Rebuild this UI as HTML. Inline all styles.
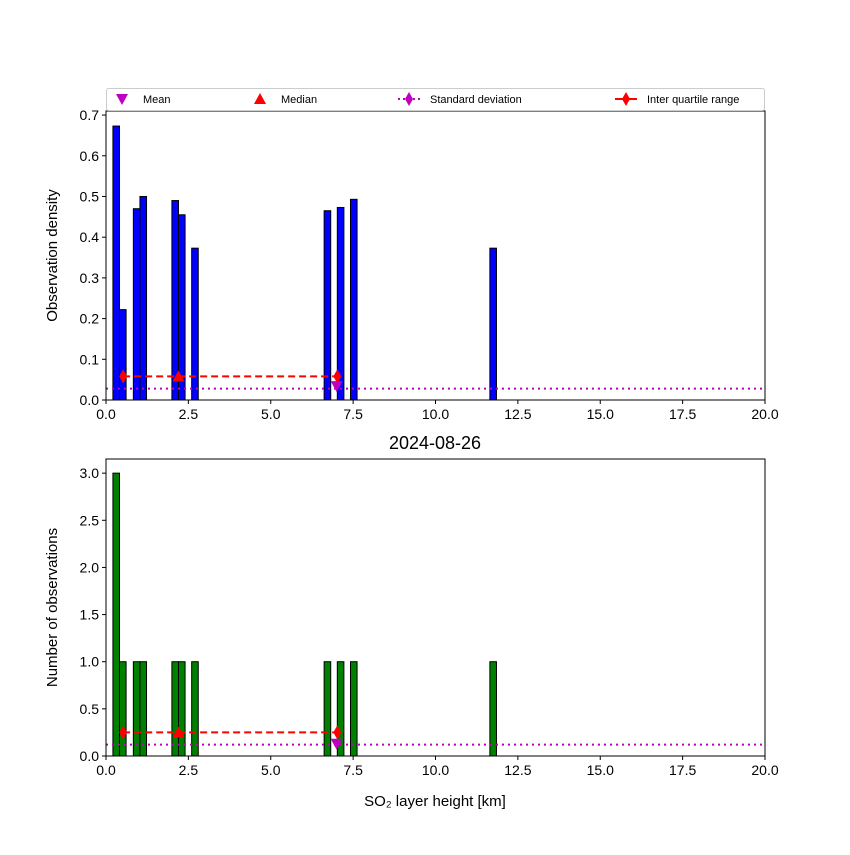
<!DOCTYPE html>
<html><head><meta charset="utf-8"><style>
body{margin:0;background:#fff;}
svg text{font-family:"Liberation Sans","DejaVu Sans",sans-serif;}
</style></head><body>
<svg id="chart" width="850" height="850" viewBox="0 0 850 850" xmlns="http://www.w3.org/2000/svg"></svg>
<script>
const binCenters=[0.31,0.51,0.93,1.13,2.1,2.3,2.7,6.72,7.12,7.52,11.75];
const densities=[0.673,0.222,0.470,0.500,0.490,0.455,0.373,0.465,0.473,0.493,0.373];
const counts=[3,1,1,1,1,1,1,1,1,1,1];
const binWidth=0.2;
const xTicks=[0,2.5,5,7.5,10,12.5,15,17.5,20];
const yTicksTop=[0,0.1,0.2,0.3,0.4,0.5,0.6,0.7];
const yTicksBot=[0,0.5,1,1.5,2,2.5,3];
const iqrRange=[0.52,7.02];
const medianVal=2.2;
const meanVal=7.0;
const topStats=[0.058,0.034,0.028];
const botStats=[0.25,0.13,0.12];

const svg=document.getElementById('chart');
const NS='http://www.w3.org/2000/svg';
function mk(tag,attrs,parent){const e=document.createElementNS(NS,tag);for(const k in attrs)e.setAttribute(k,attrs[k]);(parent||svg).appendChild(e);return e;}
const X0=106,X1=765;
const xs=v=>X0+(v/20)*(X1-X0);

function panel(name,top,bottom,ymax,ticks,vals,color,stats,ylabel){
  const ys=v=>bottom-(v/ymax)*(bottom-top);
  const g=mk('g',{});
  
  
  vals.forEach((v,i)=>{
    const r=mk('rect',{x:xs(binCenters[i]-binWidth/2),y:ys(v),width:xs(binWidth)-X0,height:bottom-ys(v),fill:color,stroke:'#000','stroke-width':1},g);
    
    
  });
  const sd=mk('line',{x1:X0,x2:X1,y1:ys(stats[2]),y2:ys(stats[2]),stroke:'#bf00bf','stroke-width':2,'stroke-dasharray':'2,4'},g);
  
  
  const iy=ys(stats[0]);
  const iq=mk('line',{x1:xs(iqrRange[0]),x2:xs(iqrRange[1]),y1:iy,y2:iy,stroke:'#ff0000','stroke-width':2,'stroke-dasharray':'7,4'},g);
  
  
  iqrRange.forEach(v=>{const x=xs(v);const d=mk('polygon',{points:`${x},${iy-7} ${x+4},${iy} ${x},${iy+7} ${x-4},${iy}`,fill:'#ff0000'},g);
    });
  const mx=xs(medianVal);
  const md=mk('polygon',{points:`${mx},${iy-6} ${mx+6},${iy+5} ${mx-6},${iy+5}`,fill:'#ff0000'},g);
  
  const ex=xs(meanVal),ey=ys(stats[1]);
  const mn=mk('polygon',{points:`${ex-6},${ey-5} ${ex+6},${ey-5} ${ex},${ey+6}`,fill:'#bf00bf'},g);
  
  const fr=mk('rect',{x:X0,y:top,width:X1-X0,height:bottom-top,fill:'none',stroke:'#000','stroke-width':1},g);
  
  xTicks.forEach(t=>{const x=xs(t);mk('line',{x1:x,x2:x,y1:bottom,y2:bottom+4,stroke:'#000'},g);
    const tx=mk('text',{x:x,y:bottom+19,'text-anchor':'middle','font-size':14},g);tx.textContent=t.toFixed(1);
    });
  ticks.forEach(t=>{const y=ys(t);mk('line',{x1:X0-4,x2:X0,y1:y,y2:y,stroke:'#000'},g);
    const tx=mk('text',{x:X0-7,y:y+5,'text-anchor':'end','font-size':14},g);tx.textContent=t.toFixed(1);
    });
  const yl=mk('text',{x:0,y:0,'text-anchor':'middle','font-size':15,transform:`translate(57,${(top+bottom)/2}) rotate(-90)`},g);
  yl.textContent=ylabel;
}
panel('density',111,400,0.71,yTicksTop,densities,'#0000ff',topStats,'Observation density');
panel('count',459,756,3.15,yTicksBot,counts,'#008000',botStats,'Number of observations');

const title=mk('text',{x:435,y:449,'text-anchor':'middle','font-size':18});
title.textContent='2024-08-26';
const xl=mk('text',{x:435,y:806,'text-anchor':'middle','font-size':15});
xl.textContent='SO₂ layer height [km]';

const lg=mk('g',{});

mk('rect',{x:106.5,y:88.5,width:658,height:22,rx:2,fill:'#fff',stroke:'#ccc'},lg);
const ly=99;
mk('polygon',{points:`116,${ly-5} 128,${ly-5} 122,${ly+6}`,fill:'#bf00bf'},lg);
mk('polygon',{points:`260,${ly-6} 266,${ly+5} 254,${ly+5}`,fill:'#ff0000'},lg);
mk('line',{x1:398,x2:420,y1:ly,y2:ly,stroke:'#bf00bf','stroke-width':2,'stroke-dasharray':'2,3'},lg);
mk('polygon',{points:`409,${ly-7} 413,${ly} 409,${ly+7} 405,${ly}`,fill:'#bf00bf'},lg);
mk('line',{x1:615,x2:637,y1:ly,y2:ly,stroke:'#ff0000','stroke-width':2},lg);
mk('polygon',{points:`626,${ly-7} 630,${ly} 626,${ly+7} 622,${ly}`,fill:'#ff0000'},lg);
[['Mean',143,'legend-mean'],['Median',281,'legend-median'],['Standard deviation',430,'legend-std'],['Inter quartile range',647,'legend-iqr']].forEach(a=>{
  const t=mk('text',{x:a[1],y:ly+4,'font-size':11},lg);t.textContent=a[0];
  });
</script>
</body></html>
